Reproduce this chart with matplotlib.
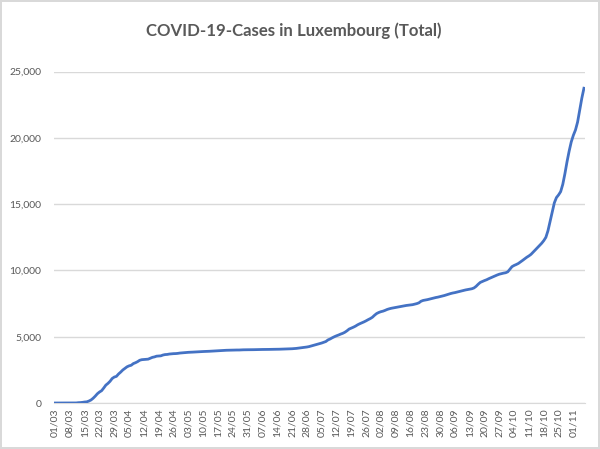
import matplotlib
matplotlib.use("Agg")
import matplotlib.pyplot as plt
import pandas as pd

# daily totals, 01/03 .. 06/11
mar = [1, 1, 1, 1, 2, 3, 4, 5, 5, 7, 7, 26, 34, 51, 77, 90, 150, 230, 360, 520,
       700, 830, 930, 1130, 1350, 1480, 1640, 1850, 1960, 2010, 2190]
apr = [2330, 2490, 2615, 2730, 2805, 2850, 2975, 3040, 3120, 3225, 3270, 3285,
       3295, 3310, 3375, 3445, 3480, 3535, 3550, 3560, 3620, 3655, 3665, 3695,
       3710, 3725, 3730, 3745, 3770, 3785]
may = [3800, 3810, 3825, 3830, 3840, 3850, 3860, 3870, 3880, 3885, 3890, 3895,
       3905, 3915, 3925, 3930, 3945, 3950, 3960, 3970, 3980, 3985, 3990, 3995,
       3995, 4000, 4000, 4010, 4015, 4020, 4020]
jun = [4020, 4020, 4025, 4030, 4035, 4035, 4040, 4040, 4045, 4045, 4050, 4050,
       4055, 4055, 4060, 4065, 4070, 4075, 4080, 4085, 4095, 4105, 4120, 4140,
       4160, 4180, 4200, 4225, 4255, 4300]
jul = [4345, 4395, 4440, 4480, 4525, 4580, 4640, 4760, 4830, 4920, 5000, 5070,
       5130, 5200, 5260, 5340, 5450, 5580, 5650, 5720, 5800, 5900, 5980, 6050,
       6120, 6200, 6290, 6370, 6470, 6620, 6750]
aug = [6830, 6890, 6930, 6990, 7060, 7110, 7150, 7180, 7210, 7240, 7270, 7300,
       7330, 7360, 7380, 7400, 7420, 7460, 7500, 7560, 7680, 7740, 7770, 7800,
       7840, 7880, 7920, 7960, 7990, 8030, 8070]
sep = [8110, 8160, 8210, 8260, 8300, 8330, 8370, 8410, 8450, 8490, 8530, 8560,
       8590, 8620, 8680, 8800, 8960, 9100, 9170, 9240, 9300, 9380, 9450, 9520,
       9590, 9660, 9720, 9760, 9800, 9830]
okt = [9900, 10100, 10290, 10380, 10450, 10530, 10640, 10760, 10880, 11000,
       11100, 11220, 11380, 11550, 11720, 11880, 12050, 12250, 12500, 13000,
       13700, 14400, 15100, 15500, 15700, 15950, 16500, 17300, 18200, 19000, 19700]
nov = [20200, 20600, 21200, 22100, 23000, 23750]

cases = mar + apr + may + jun + jul + aug + sep + okt + nov
days = pd.date_range("2020-03-01", periods=len(cases), freq="D")
labels = [d.strftime("%d/%m") for d in days]

grey = "#595959"
fig = plt.figure(figsize=(6, 4.49), dpi=100)
fig.patch.set_edgecolor("#D9D9D9")
fig.patch.set_linewidth(1.5)
ax = fig.add_axes([0.09, 0.1024, 0.885, 0.738])

ax.plot(range(len(cases)), cases, color="#4472C4", linewidth=2.0,
        solid_joinstyle="round", zorder=3)

ax.set_xlim(-0.5, len(cases) - 0.5)
ax.set_ylim(0, 25000)
ax.set_yticks(range(0, 25001, 5000))
ax.set_yticklabels(["{:,}".format(v) for v in range(0, 25001, 5000)],
                   fontsize=7.5, color=grey, family="Lato")
ax.set_xticks(range(0, len(cases), 7))
ax.set_xticklabels(labels[::7], rotation=90, fontsize=7.5, color=grey,
                   family="Lato")
ax.tick_params(axis="both", length=0)
ax.tick_params(axis="y", pad=9)
ax.tick_params(axis="x", pad=4)

ax.grid(axis="y", color="#D9D9D9", linewidth=1)
ax.set_axisbelow(True)
for s in ["top", "right", "left"]:
    ax.spines[s].set_visible(False)
ax.spines["bottom"].set_color("#D9D9D9")

fig.text(0.49, 0.932, "COVID-19-Cases in Luxembourg (Total)", ha="center",
         va="center", fontsize=12.1, color=grey, family="Lato",
         fontweight="bold")

fig.savefig("out.png", dpi=100, edgecolor=fig.get_edgecolor())
